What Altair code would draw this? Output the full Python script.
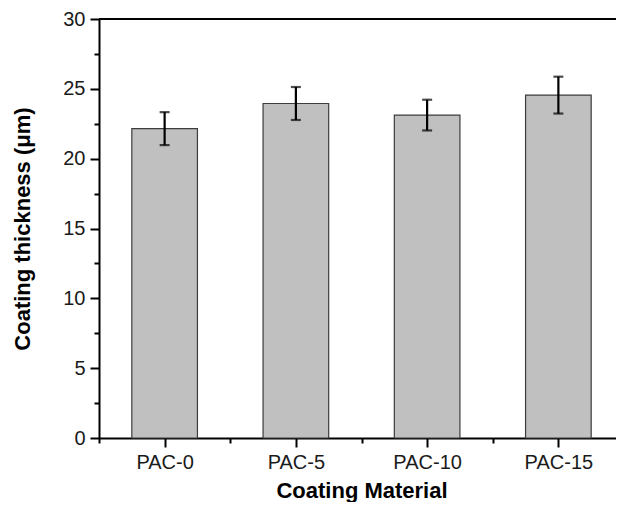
import json
import altair as alt
import pandas as pd

categories = ["PAC-0", "PAC-5", "PAC-10", "PAC-15"]
thickness = [22.15, 23.95, 23.12, 24.55]
errors = [1.18, 1.18, 1.1, 1.32]

df = pd.DataFrame({
    "cat": categories,
    "i": list(range(len(categories))),
    "mean": thickness,
    "err": errors,
})

FONT = "Liberation Sans"
W, H = 517, 419
RANGE_W = 525

label_expr = "datum.value % 1 === 0 ? " + json.dumps(categories) + "[datum.value] : ''"

x_ticks = [v / 2 for v in range(-1, 2 * len(categories))]
y_ticks = [v * 2.5 for v in range(0, 13)]

xscale = alt.Scale(domain=[-0.5, len(categories) - 0.5], range=[0, RANGE_W], nice=False, zero=False)
yscale = alt.Scale(domain=[0, 30], nice=False)

x_axis = alt.Axis(
    title="Coating Material", values=x_ticks, labelExpr=label_expr,
    grid=False, domainColor="black", domainWidth=2,
    tickColor="black", tickWidth=2,
    tickSize={"condition": {"test": "datum.value % 1 === 0", "value": 9}, "value": 5},
    labelFont=FONT, labelFontSize=20, labelColor="#1a1a1a", labelPadding=21,
    labelBaseline="alphabetic", labelFlush=False, labelOverlap=False,
    titleFont=FONT, titleFontSize=22, titleFontWeight="bold", titleColor="black",
    titleBaseline="alphabetic", titleY=59.5,
)
y_axis = alt.Axis(
    title="Coating thickness (\u03bcm)", values=y_ticks,
    labelExpr="datum.value % 5 === 0 ? datum.label : ''",
    grid=False, domainColor="black", domainWidth=2,
    tickColor="black", tickWidth=2,
    tickSize={"condition": {"test": "datum.value % 5 === 0", "value": 9}, "value": 5},
    labelFont=FONT, labelFontSize=20, labelColor="#1a1a1a", labelPadding=5,
    labelFlush=False, labelOverlap=False,
    titleFont=FONT, titleFontSize=22, titleFontWeight="bold", titleColor="black",
    titleBaseline="alphabetic", titleX=-70, titleY=H / 2, titleAngle=-90,
)

base = alt.Chart(df)

bars = base.transform_calculate(
    x0="datum.i - 0.25", x1="datum.i + 0.25"
).mark_bar(color="#c0c0c0", stroke="#3c3c3c", strokeWidth=1.2).encode(
    x=alt.X("x0:Q", scale=xscale, axis=x_axis),
    x2="x1:Q",
    y=alt.Y("mean:Q", scale=yscale, axis=y_axis),
    y2=alt.datum(0),
)

err = base.transform_calculate(
    lo="datum.mean - datum.err", hi="datum.mean + datum.err"
)

err_rule = err.mark_rule(color="black", strokeWidth=2.2).encode(
    x=alt.X("i:Q", scale=xscale, axis=x_axis),
    y=alt.Y("lo:Q", scale=yscale, axis=y_axis),
    y2="hi:Q",
)
err_top = err.mark_tick(color="black", thickness=2.2, size=10, orient="horizontal").encode(
    x=alt.X("i:Q", scale=xscale, axis=x_axis),
    y=alt.Y("hi:Q", scale=yscale, axis=y_axis),
)
err_bot = err.mark_tick(color="black", thickness=2.2, size=10, orient="horizontal").encode(
    x=alt.X("i:Q", scale=xscale, axis=x_axis),
    y=alt.Y("lo:Q", scale=yscale, axis=y_axis),
)

top_line = alt.Chart(df).mark_rule(color="black", strokeWidth=2).encode(
    x=alt.value(0), x2=alt.value(W), y=alt.value(0),
)

chart = alt.layer(bars, err_rule, err_top, err_bot, top_line).properties(
    width=W, height=H,
    autosize=alt.AutoSizeParams(type="none"),
    padding={"left": 91, "top": 11, "right": 0, "bottom": 64},
).configure_view(stroke=None).configure(background="white")

chart.save("out.html", embed_options={"renderer": "svg", "actions": False})
